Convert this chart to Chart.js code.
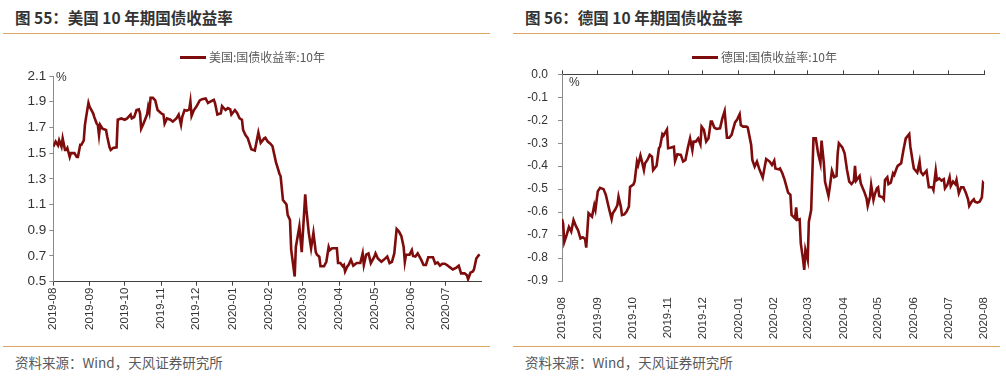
<!DOCTYPE html>
<html>
<head>
<meta charset="utf-8">
<script src="https://cdn.jsdelivr.net/npm/chart.js@4.4.0/dist/chart.umd.min.js"></script>
<style>
  body { margin: 0; background: #fff; width: 1006px; height: 376px; position: relative; overflow: hidden; font-family: "Noto Sans CJK SC", sans-serif; }
  .title { position: absolute; top: 7px; font-size: 15.5px; font-weight: bold; color: #333; white-space: nowrap; line-height: 20px; }
  .rule { position: absolute; height: 1px; background: #d9a464; width: 487px; }
  .src { position: absolute; top: 353px; font-size: 13.5px; color: #595959; line-height: 18px; white-space: nowrap; }
  .box { position: absolute; top: 40px; width: 500px; height: 300px; }
  .legend { position: absolute; top: 49px; font-size: 12px; color: #595959; line-height: 16px; white-space: nowrap; }
  .legend i { display: inline-block; width: 26px; height: 3px; background: #7f0c0c; vertical-align: middle; margin-right: 3px; position: relative; top: -1px; }
  .unit { position: absolute; font-family: "Liberation Sans", sans-serif; font-size: 12px; color: #333; line-height: 14px; }
</style>
</head>
<body>
<div class="title" style="left:15px">图 55：美国 10 年期国债收益率</div>
<div class="title" style="left:525px">图 56：德国 10 年期国债收益率</div>
<div class="rule" style="left:3px;top:33px"></div>
<div class="rule" style="left:513px;top:33px"></div>

<div class="box" style="left:0"><canvas id="usChart"></canvas></div>
<div class="box" style="left:506px"><canvas id="deChart"></canvas></div>

<div class="legend" style="left:180px"><i></i>美国:国债收益率:10年</div>
<div class="legend" style="left:692px"><i></i>德国:国债收益率:10年</div>
<div class="unit" style="left:56px;top:70px">%</div>
<div class="unit" style="left:569px;top:75px">%</div>

<div class="rule" style="left:3px;top:346px"></div>
<div class="rule" style="left:513px;top:346px"></div>
<div class="src" style="left:15px">资料来源：Wind，天风证券研究所</div>
<div class="src" style="left:525px">资料来源：Wind，天风证券研究所</div>

<script>
// month labels on the x axis
const monthTicks = ['2019-08', '2019-09', '2019-10', '2019-11', '2019-12', '2020-01', '2020-02',
    '2020-03', '2020-04', '2020-05', '2020-06', '2020-07', '2020-08'];

const usYTicks = [0.5, 0.7, 0.9, 1.1, 1.3, 1.5, 1.7, 1.9, 2.1];
const deYTicks = [0, -0.1, -0.2, -0.3, -0.4, -0.5, -0.6, -0.7, -0.8, -0.9];

// US 10Y treasury yield (%)
const usDates = ['2019-08-01','2019-08-03','2019-08-05','2019-08-06','2019-08-08','2019-08-09','2019-08-11','2019-08-12',
    '2019-08-13','2019-08-15','2019-08-16','2019-08-19','2019-08-21','2019-08-22','2019-08-24','2019-08-25','2019-08-27',
    '2019-08-28','2019-08-29','2019-08-31','2019-09-01','2019-09-04','2019-09-05','2019-09-07','2019-09-08','2019-09-09',
    '2019-09-10','2019-09-12','2019-09-15','2019-09-16','2019-09-18','2019-09-19','2019-09-21','2019-09-24','2019-09-25',
    '2019-09-28','2019-10-01','2019-10-03','2019-10-06','2019-10-07','2019-10-09','2019-10-11','2019-10-13','2019-10-14',
    '2019-10-15','2019-10-17','2019-10-20','2019-10-21','2019-10-22','2019-10-23','2019-10-25','2019-10-27','2019-10-29',
    '2019-11-01','2019-11-03','2019-11-04','2019-11-06','2019-11-09','2019-11-11','2019-11-14','2019-11-16','2019-11-18',
    '2019-11-19','2019-11-21','2019-11-23','2019-11-25','2019-11-26','2019-11-27','2019-11-29','2019-12-01','2019-12-04',
    '2019-12-06','2019-12-09','2019-12-11','2019-12-13','2019-12-16','2019-12-17','2019-12-19','2019-12-22','2019-12-23',
    '2019-12-26','2019-12-28','2019-12-30','2019-12-31','2020-01-03','2020-01-05','2020-01-07','2020-01-09','2020-01-10',
    '2020-01-12','2020-01-14','2020-01-17','2020-01-20','2020-01-23','2020-01-25','2020-01-28','2020-01-29','2020-01-31',
    '2020-02-02','2020-02-04','2020-02-07','2020-02-10','2020-02-11','2020-02-13','2020-02-16','2020-02-17','2020-02-19',
    '2020-02-20','2020-02-23','2020-02-24','2020-02-27','2020-02-29','2020-03-03','2020-03-04','2020-03-06','2020-03-08',
    '2020-03-10','2020-03-12','2020-03-13','2020-03-15','2020-03-16','2020-03-19','2020-03-21','2020-03-23','2020-03-24',
    '2020-03-26','2020-03-30','2020-03-31','2020-04-02','2020-04-04','2020-04-05','2020-04-06','2020-04-08','2020-04-09',
    '2020-04-11','2020-04-13','2020-04-16','2020-04-19','2020-04-21','2020-04-22','2020-04-24','2020-04-26','2020-04-28',
    '2020-05-01','2020-05-02','2020-05-04','2020-05-07','2020-05-09','2020-05-12','2020-05-14','2020-05-16','2020-05-18',
    '2020-05-20','2020-05-22','2020-05-24','2020-05-26','2020-05-27','2020-05-28','2020-05-31','2020-06-02','2020-06-03',
    '2020-06-05','2020-06-07','2020-06-10','2020-06-12','2020-06-14','2020-06-16','2020-06-20','2020-06-22','2020-06-24',
    '2020-06-26','2020-06-28','2020-06-30','2020-07-02','2020-07-04','2020-07-07','2020-07-10','2020-07-12','2020-07-14',
    '2020-07-17','2020-07-19','2020-07-20','2020-07-22','2020-07-24','2020-07-25','2020-07-27','2020-07-29','2020-07-30'];
const usYield = [1.55,1.59,1.56,1.60,1.55,1.615,1.525,1.525,
    1.54,1.47,1.50,1.50,1.47,1.47,1.565,1.565,1.60,
    1.72,1.78,1.89,1.86,1.81,1.78,1.73,1.72,1.64,
    1.72,1.69,1.68,1.63,1.545,1.525,1.54,1.545,1.76,
    1.77,1.76,1.77,1.80,1.77,1.78,1.835,1.84,1.81,
    1.69,1.73,1.80,1.86,1.82,1.93,1.93,1.91,1.835,
    1.81,1.80,1.73,1.77,1.76,1.745,1.77,1.80,1.72,
    1.78,1.835,1.83,1.84,1.90,1.79,1.835,1.86,1.91,
    1.92,1.925,1.89,1.90,1.915,1.89,1.80,1.81,1.865,
    1.835,1.85,1.84,1.80,1.835,1.81,1.77,1.76,1.68,
    1.64,1.615,1.53,1.52,1.66,1.58,1.615,1.62,1.59,
    1.575,1.555,1.43,1.34,1.32,1.135,1.10,1.02,0.98,
    0.75,0.54,0.77,0.93,0.73,1.18,1.06,0.88,0.76,
    0.88,0.73,0.71,0.695,0.62,0.62,0.655,0.77,0.745,
    0.76,0.76,0.645,0.645,0.62,0.63,0.58,0.62,0.63,
    0.67,0.625,0.645,0.645,0.72,0.63,0.71,0.72,0.645,
    0.695,0.72,0.68,0.655,0.67,0.695,0.645,0.655,0.72,
    0.91,0.89,0.855,0.77,0.655,0.71,0.71,0.745,0.70,
    0.695,0.72,0.67,0.63,0.63,0.69,0.69,0.64,0.65,
    0.625,0.64,0.64,0.63,0.615,0.595,0.61,0.625,0.565,
    0.565,0.55,0.52,0.57,0.58,0.595,0.68,0.705,0.71];

// German 10Y bund yield (%)
const deDates = ['2019-08-01','2019-08-02','2019-08-03','2019-08-05','2019-08-07','2019-08-09','2019-08-11','2019-08-13',
    '2019-08-15','2019-08-17','2019-08-19','2019-08-21','2019-08-22','2019-08-24','2019-08-26','2019-08-27','2019-08-29',
    '2019-08-30','2019-09-01','2019-09-03','2019-09-06','2019-09-08','2019-09-11','2019-09-13','2019-09-14','2019-09-16',
    '2019-09-18','2019-09-19','2019-09-21','2019-09-22','2019-09-24','2019-09-26','2019-09-28','2019-09-29','2019-10-02',
    '2019-10-03','2019-10-05','2019-10-06','2019-10-08','2019-10-09','2019-10-11','2019-10-12','2019-10-14','2019-10-16',
    '2019-10-18','2019-10-19','2019-10-22','2019-10-24','2019-10-25','2019-10-27','2019-10-28','2019-10-31','2019-11-01',
    '2019-11-03','2019-11-06','2019-11-07','2019-11-09','2019-11-12','2019-11-14','2019-11-16','2019-11-18','2019-11-20',
    '2019-11-22','2019-11-23','2019-11-25','2019-11-27','2019-11-29','2019-11-30','2019-12-02','2019-12-04','2019-12-06',
    '2019-12-08','2019-12-09','2019-12-11','2019-12-13','2019-12-16','2019-12-18','2019-12-20','2019-12-22','2019-12-24',
    '2019-12-26','2019-12-29','2019-12-30','2019-12-31','2020-01-02','2020-01-03','2020-01-05','2020-01-08','2020-01-09',
    '2020-01-12','2020-01-13','2020-01-15','2020-01-17','2020-01-19','2020-01-22','2020-01-25','2020-01-28','2020-01-30',
    '2020-02-01','2020-02-02','2020-02-05','2020-02-06','2020-02-08','2020-02-10','2020-02-13','2020-02-15','2020-02-16',
    '2020-02-19','2020-02-20','2020-02-21','2020-02-23','2020-02-24','2020-02-26','2020-02-27','2020-02-28','2020-03-01',
    '2020-03-02','2020-03-04','2020-03-06','2020-03-08','2020-03-10','2020-03-12','2020-03-13','2020-03-15','2020-03-16',
    '2020-03-19','2020-03-20','2020-03-22','2020-03-24','2020-03-26','2020-03-27','2020-03-28','2020-03-31','2020-04-02',
    '2020-04-04','2020-04-06','2020-04-08','2020-04-10','2020-04-11','2020-04-12','2020-04-15','2020-04-16','2020-04-19',
    '2020-04-21','2020-04-22','2020-04-24','2020-04-25','2020-04-27','2020-04-28','2020-04-30','2020-05-01','2020-05-02',
    '2020-05-05','2020-05-06','2020-05-07','2020-05-09','2020-05-10','2020-05-12','2020-05-14','2020-05-15','2020-05-17',
    '2020-05-18','2020-05-21','2020-05-23','2020-05-25','2020-05-28','2020-05-29','2020-05-31','2020-06-01','2020-06-04',
    '2020-06-06','2020-06-07','2020-06-09','2020-06-12','2020-06-14','2020-06-17','2020-06-18','2020-06-20','2020-06-21',
    '2020-06-23','2020-06-25','2020-06-27','2020-06-28','2020-06-30','2020-07-02','2020-07-03','2020-07-05','2020-07-07',
    '2020-07-08','2020-07-10','2020-07-12','2020-07-14','2020-07-16','2020-07-18','2020-07-19','2020-07-21','2020-07-23',
    '2020-07-24','2020-07-26','2020-07-28','2020-07-30','2020-07-31','2020-08-01'];
const deYield = [-0.63,-0.65,-0.73,-0.70,-0.665,-0.685,-0.635,-0.66,
    -0.68,-0.715,-0.71,-0.717,-0.755,-0.605,-0.615,-0.62,-0.57,
    -0.59,-0.51,-0.494,-0.50,-0.525,-0.59,-0.63,-0.605,-0.59,
    -0.57,-0.533,-0.576,-0.613,-0.61,-0.598,-0.576,-0.49,-0.479,
    -0.465,-0.38,-0.395,-0.354,-0.373,-0.417,-0.387,-0.373,-0.351,
    -0.359,-0.417,-0.398,-0.322,-0.315,-0.261,-0.267,-0.24,-0.322,
    -0.32,-0.315,-0.377,-0.348,-0.351,-0.38,-0.373,-0.322,-0.279,
    -0.33,-0.293,-0.293,-0.279,-0.305,-0.228,-0.242,-0.293,-0.279,
    -0.206,-0.206,-0.232,-0.238,-0.235,-0.192,-0.16,-0.276,-0.276,
    -0.264,-0.209,-0.203,-0.195,-0.174,-0.221,-0.228,-0.228,-0.232,
    -0.308,-0.373,-0.402,-0.38,-0.412,-0.45,-0.369,-0.38,-0.395,
    -0.376,-0.41,-0.414,-0.41,-0.431,-0.46,-0.515,-0.525,-0.612,
    -0.627,-0.579,-0.634,-0.631,-0.736,-0.808,-0.852,-0.765,-0.808,
    -0.642,-0.591,-0.279,-0.279,-0.344,-0.387,-0.289,-0.387,-0.467,
    -0.53,-0.496,-0.42,-0.448,-0.443,-0.344,-0.30,-0.318,-0.344,
    -0.414,-0.467,-0.478,-0.465,-0.399,-0.463,-0.443,-0.475,-0.511,
    -0.54,-0.573,-0.533,-0.482,-0.547,-0.525,-0.496,-0.492,-0.53,
    -0.536,-0.544,-0.46,-0.448,-0.478,-0.472,-0.431,-0.438,-0.41,
    -0.399,-0.387,-0.33,-0.279,-0.26,-0.315,-0.38,-0.41,-0.428,
    -0.38,-0.424,-0.438,-0.42,-0.492,-0.492,-0.504,-0.42,-0.46,
    -0.453,-0.463,-0.457,-0.496,-0.482,-0.448,-0.486,-0.467,-0.478,
    -0.46,-0.518,-0.492,-0.492,-0.515,-0.544,-0.573,-0.555,-0.544,
    -0.555,-0.559,-0.555,-0.536,-0.472,-0.478];

const BASE = Date.UTC(2019, 7, 1);
const dayOf = s => {
    const p = s.split('-').map(Number);
    return (Date.UTC(p[0], p[1] - 1, p[2] || 1) - BASE) / 864e5;
};

const LINE = '#7f0c0c';
const tickFont = { family: '"Liberation Sans", Arial, sans-serif', size: 11.5 };

function xTicks(count) {
    return {
        afterBuildTicks: s => { s.ticks = monthTicks.slice(0, count).map(m => ({ value: dayOf(m) })); },
        ticks: {
            autoSkip: false, minRotation: 90, maxRotation: 90,
            font: tickFont, color: '#333',
            callback: (v, i) => monthTicks[i]
        }
    };
}

function yScale(min, max, values, width, pad, size) {
    return {
        min, max,
        afterBuildTicks: s => { s.ticks = values.map(v => ({ value: v })); },
        afterFit: s => { s.width = width; },
        ticks: { padding: pad, font: { family: tickFont.family, size }, color: '#333', callback: v => v.toFixed(1) },
        grid: { drawOnChartArea: false, tickLength: 4, color: '#8c8c8c' },
        border: { color: '#8c8c8c' }
    };
}

function series(dates, values) {
    return [{
        data: dates.map((d, i) => ({ x: dayOf(d), y: values[i] })),
        borderColor: LINE, borderWidth: 2.6, pointRadius: 0, tension: 0, fill: false
    }];
}

Chart.defaults.animation = false;
Chart.defaults.plugins.legend.display = false;
Chart.defaults.plugins.tooltip.enabled = false;

// US chart
const usX = xTicks(12);
new Chart(document.getElementById('usChart'), {
    type: 'line',
    data: { datasets: series(usDates, usYield) },
    options: {
        responsive: true, maintainAspectRatio: false,
        layout: { padding: { top: 36, right: 19, left: 0, bottom: 0 } },
        scales: {
            x: {
                type: 'linear', min: 0, max: dayOf('2020-07-31'),
                afterBuildTicks: usX.afterBuildTicks,
                afterFit: s => { s.height = 58.3; },
                ticks: Object.assign({}, usX.ticks, { padding: 2 }),
                grid: { drawOnChartArea: false, tickLength: 4, color: '#404040' },
                border: { color: '#404040' }
            },
            y: yScale(0.5, 2.1, usYTicks, 53.3, 3, 13.5)
        }
    }
});

// Germany chart: axis line at 0 on top, labels at the bottom
const deX = xTicks(13);
new Chart(document.getElementById('deChart'), {
    type: 'line',
    data: { datasets: series(deDates, deYield) },
    options: {
        responsive: true, maintainAspectRatio: false,
        layout: { padding: { top: 34.3, right: 19, left: 0, bottom: 0 } },
        scales: {
            x: {
                type: 'linear', min: 0, max: dayOf('2020-08-01'),
                afterBuildTicks: deX.afterBuildTicks,
                afterFit: s => { s.height = 59; },
                ticks: Object.assign({}, deX.ticks, { padding: 8 }),
                grid: { display: false },
                border: { display: false }
            },
            x2: {
                type: 'linear', position: 'top', min: 0, max: dayOf('2020-08-01'),
                afterBuildTicks: deX.afterBuildTicks,
                afterFit: s => { s.height = 0; },
                ticks: { display: false },
                grid: { drawOnChartArea: false, tickLength: 4, color: '#404040' },
                border: { color: '#404040' }
            },
            y: yScale(-0.9, 0, deYTicks, 56, 10, 12)
        }
    }
});
</script>
</body>
</html>
